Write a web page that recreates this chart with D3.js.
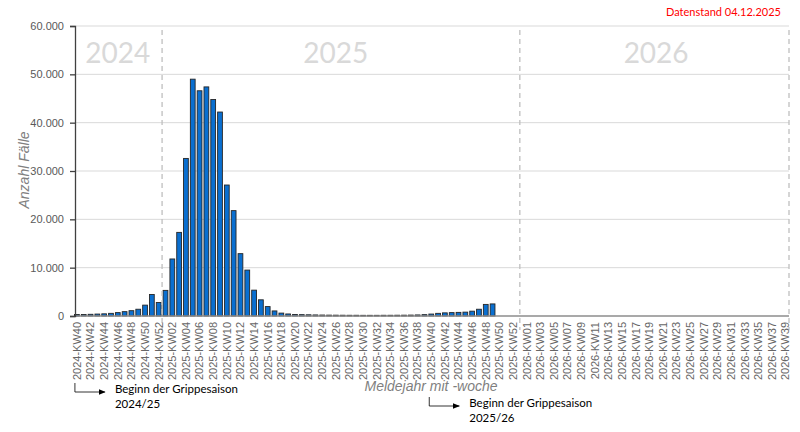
<!DOCTYPE html>
<html><head><meta charset="utf-8">
<script src="https://cdn.jsdelivr.net/npm/d3@7"></script>
<style>html,body{margin:0;padding:0;background:#fff;} svg{display:block;}</style>
</head><body>
<svg id="chart" width="800" height="432"></svg>
<script>
// ---- data ----
const segments = [
  {year: 2024, from: 40, to: 52},
  {year: 2025, from: 1, to: 53},
  {year: 2026, from: 1, to: 39}
];
const categories = [];
segments.forEach(s => { for (let w = s.from; w <= s.to; w++) categories.push(s.year + "-KW" + String(w).padStart(2, "0")); });

const values2024 = [300, 300, 350, 400, 450, 550, 700, 900, 1100, 1400, 2250, 4450, 2800];
const values2025 = [5300, 11800, 17300, 32600, 49000, 46600, 47400, 44800, 42200, 27100,
  21800, 12900, 9500, 5350, 3350, 1950, 1050, 600, 420, 320,
  280, 250, 220, 200, 180, 170, 160, 150, 150, 140,
  140, 140, 150, 150, 160, 170, 190, 220, 280, 400,
  550, 650, 700, 750, 800, 1000, 1400, 2400, 2500];
const values = values2024.concat(values2025);

const yTicks = [0, 10000, 20000, 30000, 40000, 50000, 60000];
const yearLabels = ["2024", "2025", "2026"];
const yearLabelAnchors = ["2024-KW46", "2025-KW26", "2026-KW20"];
const boundaryCats = ["2025-KW01", "2025-KW53", "2026-KW39"];
const boundaryPos = [0, 0.5, 1];
const annotations = [
  {cat: "2024-KW40", lines: ["Beginn der Grippesaison", "2024/25"]},
  {cat: "2025-KW40", lines: ["Beginn der Grippesaison", "2025/26"]}
];
const stampText = "Datenstand 04.12.2025";

// ---- layout ----
const svg = d3.select("#chart");
const pLeft = 73.5, pRight = 789, pTop = 26, pBottom = 316;

const x = d3.scaleBand().domain(categories).range([pLeft, pRight]).paddingInner(0.3).paddingOuter(0.15);
const y = d3.scaleLinear().domain([0, 60000]).range([pBottom, pTop]);
const fmt = v => d3.format(",")(v).replace(/,/g, ".");
const step = x.step();
const cx = c => x(c) + x.bandwidth() / 2;

// gridlines
svg.append("g").selectAll("line").data(yTicks.filter(d => d > 0)).join("line")
  .attr("x1", 75).attr("x2", pRight).attr("y1", d => y(d)).attr("y2", d => y(d))
  .attr("stroke", "#d9d9d9").attr("stroke-width", 1);

// year labels
svg.append("g").selectAll("text").data(yearLabels).join("text")
  .attr("x", (d, i) => cx(yearLabelAnchors[i]))
  .attr("y", 63).attr("text-anchor", "middle")
  .attr("font-family", "Lato, 'Open Sans', sans-serif").attr("font-size", 28)
  .attr("fill", "#d9d9d9").text(d => d);

// bars
svg.append("g").selectAll("rect").data(values).join("rect")
  .attr("x", (d, i) => x(categories[i]))
  .attr("width", x.bandwidth())
  .attr("y", d => y(d))
  .attr("height", d => pBottom - y(d))
  .attr("fill", "#0a6fd0").attr("stroke", "#262626").attr("stroke-width", 0.9);

// boundary dashed lines
svg.append("g").selectAll("line").data(boundaryCats).join("line")
  .attr("x1", (d, i) => x(d) - step * 0.15 + step * boundaryPos[i])
  .attr("x2", (d, i) => x(d) - step * 0.15 + step * boundaryPos[i])
  .attr("y1", 30).attr("y2", 330)
  .attr("stroke", "#bfbfbf").attr("stroke-width", 1.3).attr("stroke-dasharray", "5,4");

// x axis line
svg.append("line").attr("x1", 75).attr("x2", pRight).attr("y1", pBottom).attr("y2", pBottom)
  .attr("stroke", "#8c8c8c").attr("stroke-width", 1.3);

// y axis
const yAxis = d3.axisLeft(y).tickValues(yTicks).tickSize(5).tickPadding(6).tickFormat(fmt);
const gy = svg.append("g").attr("transform", "translate(75,0)").call(yAxis);
gy.select(".domain").attr("stroke", "#404040").attr("stroke-width", 1.3);
gy.selectAll(".tick line").attr("stroke", "#404040").attr("stroke-width", 1.3);
gy.selectAll(".tick text").attr("font-family", "'Liberation Sans', Arial, sans-serif")
  .attr("font-size", 11).attr("fill", "#595959");

// x tick labels
const xAxis = d3.axisBottom(x).tickValues(categories.filter((d, i) => i % 2 === 0)).tickSize(0).tickPadding(0);
const gx = svg.append("g").attr("transform", `translate(0,${pBottom})`).call(xAxis);
gx.select(".domain").remove();
gx.selectAll(".tick text")
  .attr("transform", "rotate(-90)")
  .attr("x", -6).attr("y", 0).attr("dy", "0.35em")
  .attr("text-anchor", "end")
  .attr("font-family", "'Liberation Sans', Arial, sans-serif")
  .attr("font-size", 11).attr("fill", "#666666");

// axis titles
svg.append("text").attr("transform", "translate(29,170) rotate(-90)")
  .attr("text-anchor", "middle").attr("font-family", "'Liberation Sans', Arial, sans-serif")
  .attr("font-style", "italic").attr("font-size", 14).attr("fill", "#7f7f7f").text("Anzahl Fälle");
svg.append("text").attr("x", 431).attr("y", 391)
  .attr("text-anchor", "middle").attr("font-family", "'Liberation Sans', Arial, sans-serif")
  .attr("font-style", "italic").attr("font-size", 14).attr("fill", "#7f7f7f").text("Meldejahr mit -woche");

// stamp
svg.append("text").attr("x", 781).attr("y", 16).attr("text-anchor", "end")
  .attr("font-family", "Lato, 'Open Sans', sans-serif").attr("font-size", 11)
  .attr("fill", "#ff0000").text(stampText);

// annotations
svg.append("defs").append("marker").attr("id", "arr").attr("viewBox", "0 0 10 10")
  .attr("refX", 9).attr("refY", 5).attr("markerWidth", 7).attr("markerHeight", 7)
  .attr("orient", "auto").attr("markerUnits", "userSpaceOnUse")
  .append("path").attr("d", "M0,1 L10,5 L0,9 Z").attr("fill", "#000");
const annTop = [383, 397];
annotations.forEach((a, i) => {
  const ax = cx(a.cat) - 2;
  const y0 = annTop[i], y1 = y0 + 9;
  svg.append("path").attr("d", `M${ax},${y0} V${y1} H${ax + 30}`)
    .attr("fill", "none").attr("stroke", "#000").attr("stroke-width", 0.8)
    .attr("marker-end", "url(#arr)");
  const t = svg.append("text").attr("font-family", "Lato, 'Open Sans', sans-serif")
    .attr("font-size", 11.5).attr("fill", "#000");
  a.lines.forEach((l, j) => t.append("tspan").attr("x", ax + 40).attr("y", y1 + 1 + j * 15).text(l));
});
</script>
</body></html>
